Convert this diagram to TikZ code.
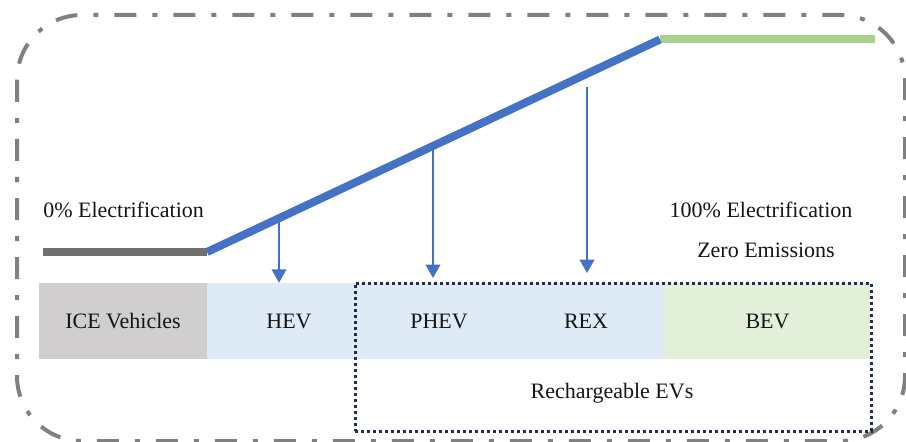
\documentclass[tikz,border=0pt]{standalone}
\usepackage{fontspec}
\setmainfont{Liberation Serif}
\usetikzlibrary{arrows.meta}

\definecolor{iceGray}{HTML}{D0CECE}
\definecolor{hybBlue}{HTML}{DEEBF7}
\definecolor{bevGreen}{HTML}{E2F0D9}
\definecolor{mainBlue}{HTML}{4472C4}
\definecolor{zeroGreen}{HTML}{A9D18E}
\definecolor{iceLine}{HTML}{707070}
\definecolor{frameGray}{HTML}{808080}
\definecolor{navy}{HTML}{1F2D4E}
\definecolor{ink}{HTML}{151515}

\tikzset{
  x=0.75pt, y=-0.75pt,
  every node/.style={font=\fontsize{16.5}{19.5}\selectfont, text=ink},
  segment/.style={draw=none, inner sep=0pt, minimum height=57pt},
  frame/.style={draw=frameGray, line width=3pt,
    dash pattern=on 16.5pt off 12pt on 3.75pt off 12pt},
  groupbox/.style={draw=navy, line width=2.25pt, inner sep=0pt,
    dash pattern=on 2.25pt off 2.25pt, minimum width=387pt, minimum height=111pt},
  trend/.style={line width=6pt, line cap=butt},
  pointer/.style={draw=mainBlue, line width=1.1pt,
    -{Triangle[width=11pt,length=10pt]}},
}

\begin{document}
\begin{tikzpicture}
\useasboundingbox (0,0) rectangle (906,442);
\clip (0,0) rectangle (906,442);

% outer dash-dot frame
\draw[frame, rounded corners=48.75pt] (17,15) rectangle (905,441);

% vehicle categories
\node[segment, fill=iceGray,  minimum width=126pt]    (ice)  at (123,321)   {ICE Vehicles};
\node[segment, fill=hybBlue,  minimum width=123pt]    (hev)  at (289,321)   {HEV};
\node[segment, fill=hybBlue,  minimum width=102pt]    (phev) at (439,321)   {PHEV};
\node[segment, fill=hybBlue,  minimum width=118.5pt]  (rex)  at (586,321)   {REX};
\node[segment, fill=bevGreen, minimum width=153.75pt] (bev)  at (767.5,321) {BEV};

% rechargeable group
\node[groupbox] (rech) at (613,357) {};
\node[anchor=base] (rechlbl) at (612,398) {Rechargeable EVs};

% electrification trend line
\coordinate (g0) at (43,252);
\coordinate (b0) at (207,252);
\coordinate (b1) at (660,39.5);
\coordinate (g1) at (875,39.5);
\draw[trend, draw=iceLine] (g0) -- (b0);
\draw[trend, draw=zeroGreen] (b1) -- (g1);
\draw[trend, draw=mainBlue] (b0) -- (b1);

% end labels
\node[anchor=base west, inner sep=0pt] (zero) at (43,217)  {0\% Electrification};
\node[anchor=base]      (full) at (761,217) {100\% Electrification};
\node[anchor=base]      (zem)  at (766,257) {Zero Emissions};

% pointers from the trend line to the categories
\coordinate (p1) at (279,218);
\coordinate (p2) at (433,144);
\coordinate (p3) at (587,87);
\coordinate (q2) at (433,278);
\coordinate (q3) at (587,273);
\draw[pointer] (p1) -- (p1 |- hev.north);
\draw[pointer] (p2) -- (q2);
\draw[pointer] (p3) -- (q3);
\end{tikzpicture}
\end{document}
